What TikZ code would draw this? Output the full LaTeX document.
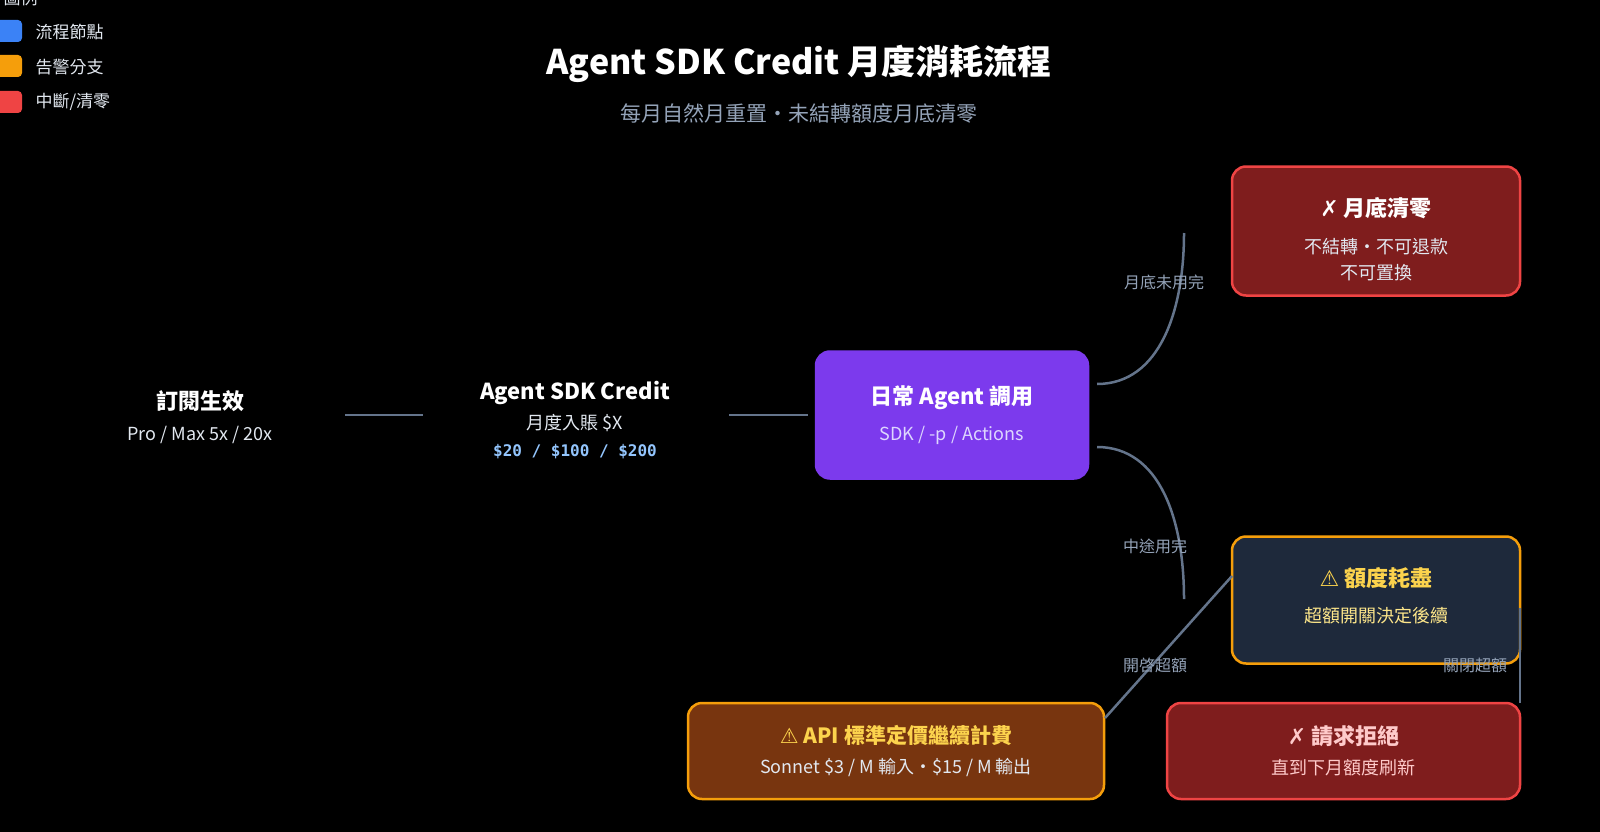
\documentclass[tikz,border=0pt]{standalone}
\usepackage{fontspec}
\setmainfont{Noto Sans CJK TC}
\newfontfamily\symfnt{DejaVu Sans}
\newfontfamily\monofnt{DejaVu Sans Mono}
\begin{document}
\begin{tikzpicture}[x=1pt,y=-1pt,
  box/.style={rounded corners=14pt,line width=2.5pt,minimum width=#1},
  edge/.style={draw=gray6,line width=2.5pt},
  lbl/.style={font=\fontsize{16}{20}\selectfont,text=gray4},
  leg/.style={font=\fontsize{17}{20}\selectfont,text=gray2,anchor=west}]
\definecolor{gray6}{HTML}{64748B}\definecolor{gray4}{HTML}{94A3B8}\definecolor{gray2}{HTML}{E2E8F0}
\definecolor{purp}{HTML}{7C3AED}\definecolor{dred}{HTML}{7F1D1D}\definecolor{red}{HTML}{EF4444}
\definecolor{slate}{HTML}{1E293B}\definecolor{amb}{HTML}{F59E0B}\definecolor{brown}{HTML}{78350F}
\definecolor{yel}{HTML}{FCD34D}\definecolor{pinkt}{HTML}{FECACA}\definecolor{lav}{HTML}{DDD6FE}
\definecolor{peach}{HTML}{FDE68A}\definecolor{lblue}{HTML}{93C5FD}\definecolor{lgblue}{HTML}{3B82F6}
\fill[black] (0,0) rectangle (1600,832);
\useasboundingbox (0,0) rectangle (1600,832);
% legend
\node[leg] (lt) at (0,-2) {圖例};
\fill[lgblue,rounded corners=4pt] (-6,20) rectangle (22,42);
\fill[amb,rounded corners=4pt] (-6,55) rectangle (22,77);
\fill[red,rounded corners=4pt] (-6,91) rectangle (22,113);
\node[leg] (l1) at (32,32) {流程節點};
\node[leg] (l2) at (32,67) {告警分支};
\node[leg] (l3) at (32,102) {中斷/清零};
% title
\node[font=\fontsize{34}{38}\selectfont\bfseries,text=white] (title) at (799,64) {Agent SDK Credit 月度消耗流程};
\node[font=\fontsize{21}{24}\selectfont,text=gray4] (subt) at (799,113) {每月自然月重置・未結轉額度月底清零};
% nodes
\node[align=center] (a) at (200,417) {\fontsize{22}{26}\selectfont\bfseries\color{white}訂閱生效\\[14pt]\fontsize{18}{22}\selectfont\mdseries\color{gray2}Pro / Max 5x / 20x};
\node[align=center] (b) at (575,420) {\fontsize{22}{26}\selectfont\bfseries\color{white}Agent SDK Credit\\[8pt]\fontsize{18}{22}\selectfont\mdseries\color{gray2}月度入賬 \$X\\[12pt]\monofnt\fontsize{16}{20}\selectfont\bfseries\color{lblue}\$20 / \$100 / \$200};
\node[box=272pt,fill=purp,draw=purp,minimum height=127pt,align=center] (c) at (952,415) {\fontsize{22}{26}\selectfont\bfseries\color{white}日常 Agent 調用\\[15pt]\fontsize{18}{22}\selectfont\mdseries\color{lav}SDK / -p / Actions};
\node[box=288pt,fill=dred,draw=red,minimum height=129pt,align=center] (d) at (1376,231) {\rule{0pt}{36pt}\fontsize{22}{26}\selectfont\bfseries\color{white}{\symfnt ✗} 月底清零\\[18pt]\fontsize{18}{22}\selectfont\mdseries\color{gray2}不結轉・不可退款\\[9pt]\fontsize{18}{22}\selectfont\mdseries\color{gray2}不可置換};
\node[box=288pt,fill=slate,draw=amb,minimum height=127pt,align=center,text depth=10pt] (e) at (1376,600) {\fontsize{22}{26}\selectfont\bfseries\color{yel}{\symfnt ⚠} 額度耗盡\\[17pt]\fontsize{18}{22}\selectfont\mdseries\color{peach}超額開關決定後續};
\node[box=416pt,fill=brown,draw=amb,minimum height=96pt,align=center] (f) at (896,751) {\fontsize{21}{26}\selectfont\bfseries\color{yel}{\symfnt ⚠} API 標準定價繼續計費\\[12pt]\fontsize{18}{22}\selectfont\mdseries\color{gray2}Sonnet \$3 / M 輸入・\$15 / M 輸出};
\node[box=353pt,fill=dred,draw=red,minimum height=96pt,align=center] (g) at (1343.5,751) {\fontsize{22}{26}\selectfont\bfseries\color{pinkt}{\symfnt ✗} 請求拒絕\\[12pt]\fontsize{18}{22}\selectfont\mdseries\color{pinkt}直到下月額度刷新};
% edges
\coordinate (a1) at (345,415); \coordinate (b0) at (423,415);
\coordinate (b1) at (729,415); \coordinate (c0) at (808,415);
\draw[edge] (a1) -- (b0);
\draw[edge] (b1) -- (c0);
\coordinate (c1) at (1097,384); \coordinate (d0) at (1184,233);
\draw[edge] (c1) .. controls (1160,384) and (1184,310) .. (d0);
\coordinate (c2) at (1097,447); \coordinate (e0) at (1184,599);
\draw[edge] (c2) .. controls (1160,447) and (1184,520) .. (e0);
\coordinate (f1) at (1105,718); \coordinate (e1) at (1232,576);
\draw[edge] (f1) -- (e1);
\coordinate (e2) at (1520,608); \coordinate (g0) at (1520,703);
\draw[edge] (e2) -- (g0);
\node[lbl] (m1) at (1164,282) {月底未用完};
\node[lbl] (m2) at (1155,546) {中途用完};
\node[lbl] (m3) at (1155,665) {開啓超額};
\node[lbl] (m4) at (1475,665) {關閉超額};
\end{tikzpicture}
\end{document}
